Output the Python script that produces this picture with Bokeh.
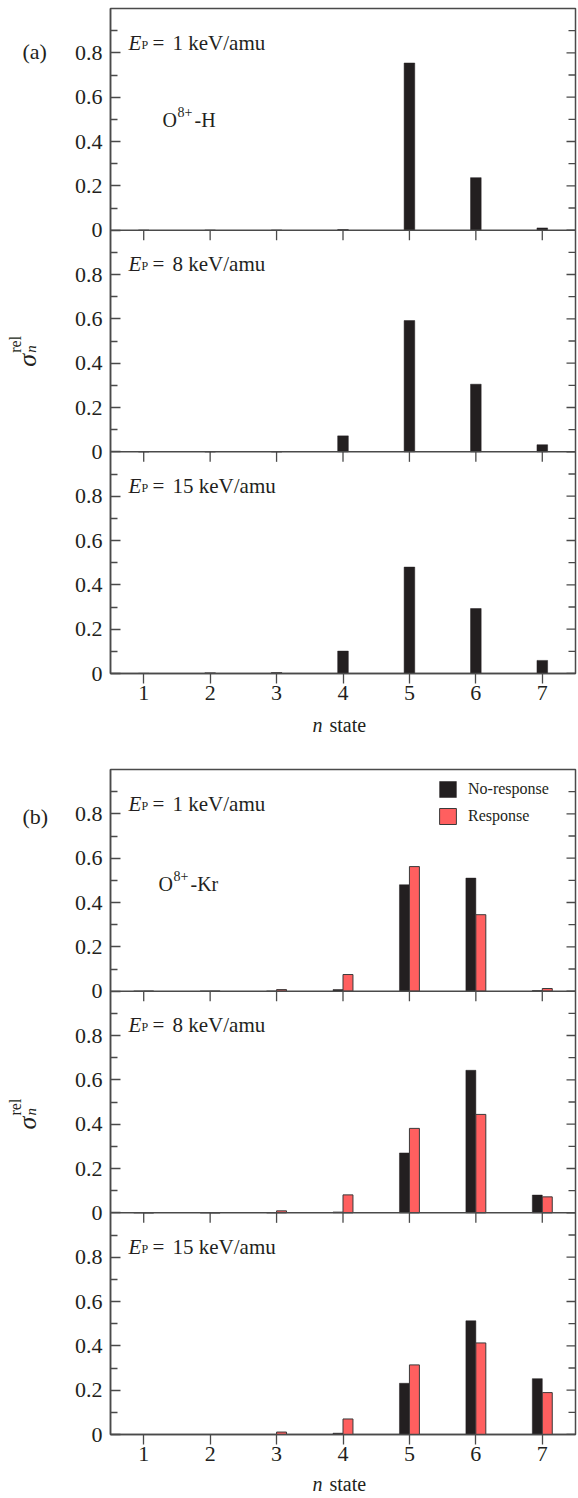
import math
from bokeh.plotting import figure
from bokeh.models import Range1d, FixedTicker, Label, Span, Legend, LegendItem
from bokeh.layouts import column, row
from bokeh.embed import file_html
from bokeh.resources import INLINE
from bokeh.transform import dodge

# ---------------- data ----------------
n_states = [1, 2, 3, 4, 5, 6, 7]
energies = ["1", "8", "15"]

# (a) O8+ - H
h_1kev = [0.0, 0.0, 0.0, 0.003, 0.754, 0.237, 0.010]
h_8kev = [0.0, 0.0, 0.0, 0.072, 0.592, 0.305, 0.032]
h_15kev = [0.001, 0.003, 0.004, 0.101, 0.480, 0.293, 0.059]

# (b) O8+ - Kr
kr_1kev_noresp = [0.001, 0.001, 0.001, 0.007, 0.480, 0.510, 0.003]
kr_1kev_resp = [0.0, 0.0, 0.007, 0.075, 0.562, 0.345, 0.012]
kr_8kev_noresp = [0.0, 0.0, 0.0, 0.004, 0.270, 0.643, 0.080]
kr_8kev_resp = [0.0, 0.0, 0.009, 0.081, 0.381, 0.444, 0.072]
kr_15kev_noresp = [0.0, 0.0, 0.0, 0.006, 0.231, 0.513, 0.252]
kr_15kev_resp = [0.0, 0.0, 0.011, 0.070, 0.314, 0.413, 0.189]

y_major = [0.0, 0.2, 0.4, 0.6, 0.8]
y_minor = [0.1, 0.3, 0.5, 0.7, 0.9]
y_labels = ["0", "0.2", "0.4", "0.6", "0.8"]

# ---------------- styling / geometry ----------------
FONT = "Liberation Serif"
TXT = "#231f20"
EDGE = "#4a4a4a"
BLACK = "#231f20"
RED = "#ff5f5f"
W = 578
STRIP_W = 60            # left strip holding "(a)" and the sigma title
FL, FR = 50, 3          # borders of the main figure (frame starts at 110 px)
FW = W - STRIP_W - FL - FR
FH = 665
NP = 3
PH = FH / NP
X0, X1 = 0.5, 7.5
SX = FW / (X1 - X0)
BOTTOM = 37


def xd(sx):
    # page x pixel -> data x of the main figure
    return X0 + (sx - STRIP_W - FL) / SX


def yd(dy):
    # pixels below the frame top -> main-range data value
    return NP - dy / PH


def lab(x, y, text, size, style="normal", align="left", baseline="alphabetic", angle=0.0):
    return Label(x=x, y=y, text=text, text_font=FONT, text_font_size=f"{size}px",
                 text_font_style=style, text_align=align, text_baseline=baseline,
                 angle=angle, text_color=TXT)


def blank(width, height):
    p = figure(width=width, height=height, x_range=Range1d(0, width), y_range=Range1d(height, 0),
               output_backend="svg", toolbar_location=None, x_axis_type=None, y_axis_type=None,
               title=None, min_border=0, min_border_left=0, min_border_right=0,
               min_border_top=0, min_border_bottom=0)
    p.outline_line_color = None
    p.background_fill_color = "white"
    p.border_fill_color = "white"
    return p


def make_group(tag, top_border, target, black_series, red_series):
    height = top_border + FH + BOTTOM
    p = figure(width=W - STRIP_W, height=height, x_range=Range1d(X0, X1), y_range=Range1d(0, NP),
               output_backend="svg", toolbar_location=None, title=None,
               min_border_left=FL, min_border_right=FR,
               min_border_top=top_border, min_border_bottom=BOTTOM)
    p.background_fill_color = "white"
    p.border_fill_color = "white"
    p.outline_line_color = EDGE
    p.outline_line_width = 1.5
    p.xgrid.visible = False
    p.ygrid.visible = False

    # panel k (0 = top) shows its own 0..1 range
    for k in range(NP):
        p.extra_y_ranges[f"p{k}"] = Range1d(start=-(NP - 1 - k), end=1 + k)

    ticks, minors, overrides = [], [], {}
    for k in range(NP):
        for v, lb in zip(y_major, y_labels):
            t = round(k + v, 1)
            ticks.append(t)
            overrides[t] = lb
        for v in y_minor:
            minors.append(round(k + v, 1))
    yax = p.yaxis[0]
    yax.ticker = FixedTicker(ticks=ticks, minor_ticks=minors)
    yax.major_label_overrides = overrides
    yax.major_tick_in = 10
    yax.major_tick_out = 0
    yax.minor_tick_in = 7
    yax.minor_tick_out = 0
    yax.major_label_standoff = 8
    yax.major_label_text_font = FONT
    yax.major_label_text_font_size = "22px"
    yax.major_label_text_color = TXT
    yax.axis_line_color = EDGE
    yax.axis_line_width = 1.5
    yax.major_tick_line_color = EDGE
    yax.minor_tick_line_color = EDGE
    yax.major_tick_line_width = 1.3
    yax.minor_tick_line_width = 1.3

    # right-hand inward ticks (mirror of the left axis, no labels)
    p.ray(x=[X1] * len(ticks), y=ticks, length=9, length_units="screen", angle=math.pi,
          line_color=EDGE, line_width=1.3)
    p.ray(x=[X1] * len(minors), y=minors, length=7, length_units="screen", angle=math.pi,
          line_color=EDGE, line_width=1.3)

    xax = p.xaxis[0]
    xax.ticker = FixedTicker(ticks=n_states)
    xax.major_tick_out = 10
    xax.major_tick_in = 0
    xax.minor_tick_line_color = None
    xax.major_label_standoff = 2
    xax.major_label_text_font = FONT
    xax.major_label_text_font_size = "22px"
    xax.major_label_text_color = TXT
    xax.axis_line_color = EDGE
    xax.axis_line_width = 1.5
    xax.major_tick_line_color = EDGE
    xax.major_tick_line_width = 1.3

    for k in range(1, NP):
        p.add_layout(Span(location=k, dimension="width", line_color=EDGE, line_width=1.5))
        p.ray(x=n_states, y=[k] * len(n_states), length=10, length_units="screen",
              angle=-math.pi / 2, line_color=EDGE, line_width=1.3)

    renderers = []
    for k in range(NP):
        rng = f"p{k}"  # series listed top panel first
        if red_series is None:
            r = p.vbar(x=n_states, top=black_series[k], bottom=0, width=0.16,
                       fill_color=BLACK, line_color=BLACK, line_width=0.5, y_range_name=rng)
            renderers.append((r, None))
        else:
            src = {"n": n_states, "nr": black_series[k], "r": red_series[k]}
            rb = p.vbar(x=dodge("n", -0.075, range=p.x_range), top="nr", bottom=0, width=0.15,
                        source=src, fill_color=BLACK, line_color=BLACK, line_width=0.5,
                        y_range_name=rng)
            rr = p.vbar(x=dodge("n", 0.075, range=p.x_range), top="r", bottom=0, width=0.15,
                        source=src, fill_color=RED, line_color="#3a3a3a", line_width=1,
                        y_range_name=rng)
            renderers.append((rb, rr))

    # in-frame texts
    for k, e in enumerate(energies):
        base = k * PH + 34
        p.add_layout(lab(xd(128), yd(base), "E", 21, style="italic"))
        p.add_layout(lab(xd(141), yd(base + 2), "P", 12))
        p.add_layout(lab(xd(152), yd(base), "=", 21))
        p.add_layout(lab(xd(172), yd(base), f"{e} keV/amu", 21))
    if target == "H":
        p.add_layout(lab(xd(162), yd(111), "O", 20))
        p.add_layout(lab(xd(177), yd(103), "8+", 14))
        p.add_layout(lab(xd(194), yd(111), "-H", 20))
    else:
        p.add_layout(lab(xd(158), yd(114), "O", 20))
        p.add_layout(lab(xd(173), yd(106), "8+", 14))
        p.add_layout(lab(xd(190), yd(114), "-Kr", 20))

    # left strip: panel tag and rotated sigma_n^rel title
    left = blank(STRIP_W, height)
    fc = top_border + FH / 2
    left.add_layout(lab(22, top_border + 0.2 * PH - 6, tag, 22, baseline="middle"))
    left.add_layout(lab(27, fc + 42, "σ", 26, style="italic", angle=math.pi / 2))
    left.add_layout(lab(15, fc + 27, "rel", 16, angle=math.pi / 2))
    left.add_layout(lab(30, fc + 27, "n", 15, style="italic", angle=math.pi / 2))

    return p, left, renderers


pa, la, _ = make_group("(a)", 8, "H", [h_1kev, h_8kev, h_15kev], None)
pb, lb_, rb = make_group("(b)", 12, "Kr",
                         [kr_1kev_noresp, kr_8kev_noresp, kr_15kev_noresp],
                         [kr_1kev_resp, kr_8kev_resp, kr_15kev_resp])

legend = Legend(items=[LegendItem(label="No-response", renderers=[rb[0][0]]),
                       LegendItem(label="Response", renderers=[rb[0][1]])],
                location=(327, 608), orientation="vertical",
                glyph_width=21, glyph_height=20, label_height=20, spacing=7,
                padding=0, margin=0, border_line_color=None, background_fill_alpha=0,
                label_text_font=FONT, label_text_font_size="16px", label_text_color=TXT,
                label_standoff=10)
pb.add_layout(legend)

# bottom strips: x-axis title "n state"
ha = 8 + FH + BOTTOM
hb = 12 + FH + BOTTOM
ba = blank(W, 757 - ha)
bb = blank(W, 1498 - 757 - hb)
for strip, ymid in ((ba, 14), (bb, 12)):
    strip.add_layout(lab(312, ymid, "n", 20, style="italic", baseline="middle"))
    strip.add_layout(lab(329, ymid, "state", 20, baseline="middle"))

layout = column(row(la, pa, spacing=0), ba, row(lb_, pb, spacing=0), bb, spacing=0)
open("out.html", "w").write(file_html(layout, INLINE))
